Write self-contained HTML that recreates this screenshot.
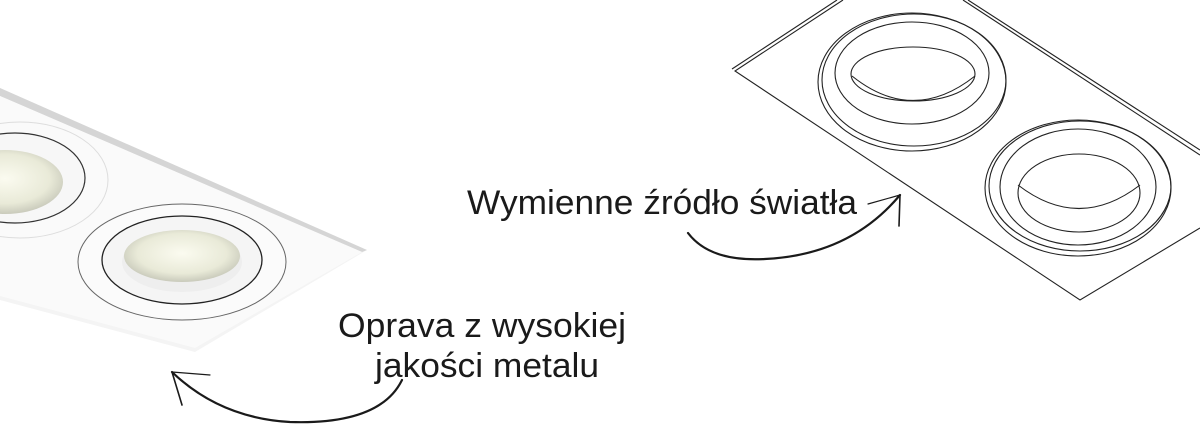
<!DOCTYPE html>
<html><head><meta charset="utf-8"><style>
html,body{margin:0;padding:0;background:#fff;width:1200px;height:428px;overflow:hidden}
</style></head><body>
<svg width="1200" height="428" viewBox="0 0 1200 428" xmlns="http://www.w3.org/2000/svg">
<defs>
<radialGradient id="bulb" cx="50%" cy="45%" r="55%">
<stop offset="0" stop-color="#fbfbf0"/><stop offset="0.7" stop-color="#e9ead8"/><stop offset="1" stop-color="#c9cabb"/>
</radialGradient>
</defs>
<!-- left white plate -->
<polygon points="0,88 367,250 195,352 0,300" fill="#f4f4f4"/>
<polygon points="0,88 367,250 362,252 0,96" fill="#d5d5d5"/>
<polygon points="0,96 362,252 195,348 0,296" fill="#fafafa"/>
<!-- lamp 1 -->
<ellipse cx="20" cy="180" rx="88" ry="58" fill="none" stroke="#ddd" stroke-width="1"/>
<ellipse cx="15" cy="178" rx="70" ry="45" fill="#f7f7f7" stroke="#333" stroke-width="1.2"/>
<ellipse cx="5" cy="182" rx="58" ry="32" fill="url(#bulb)"/>
<!-- lamp 2 -->
<ellipse cx="182" cy="262" rx="104" ry="58" fill="#fbfbfb" stroke="#666" stroke-width="1"/>
<ellipse cx="182" cy="260" rx="80" ry="44" fill="#f5f5f5" stroke="#222" stroke-width="1.3"/>
<ellipse cx="182" cy="262" rx="60" ry="30" fill="#eeeeee"/>
<ellipse cx="182" cy="256" rx="58" ry="26" fill="url(#bulb)"/>
<!-- right line drawing -->
<g fill="none" stroke="#222" stroke-width="1.1">
<polyline points="843,0 735,71 1080,300 1200,228"/>
<line x1="837" y1="0" x2="732" y2="69"/>
<line x1="963" y1="0" x2="1200" y2="155"/>
<line x1="968" y1="0" x2="1200" y2="150"/>
<ellipse cx="912" cy="82" rx="94" ry="69"/>
<ellipse cx="914" cy="80" rx="92" ry="66"/>
<ellipse cx="912" cy="73" rx="77" ry="51"/>
<ellipse cx="913" cy="74" rx="62" ry="27"/>
<path d="M852,76 Q913,125 975,76"/>
<ellipse cx="1078" cy="188" rx="93" ry="68"/>
<ellipse cx="1080" cy="186" rx="91" ry="65"/>
<ellipse cx="1078" cy="187" rx="78" ry="58"/>
<ellipse cx="1079" cy="193" rx="61" ry="39"/>
<path d="M1018,185 Q1079,232 1140,185"/>
</g>
<!-- text -->
<g font-family="Liberation Sans, DejaVu Sans, sans-serif" font-size="34" fill="#1a1a1a">
<text x="467" y="214" textLength="390" lengthAdjust="spacingAndGlyphs">Wymienne źródło światła</text>
<text x="338" y="337" textLength="288" lengthAdjust="spacingAndGlyphs">Oprava z wysokiej</text>
<text x="375" y="377" textLength="224" lengthAdjust="spacingAndGlyphs">jakości metalu</text>
</g>
<!-- arrows -->
<g fill="none" stroke="#1a1a1a" stroke-width="2.2" stroke-linecap="round">
<path d="M688,233 Q710,262 765,259 Q850,255 900,195"/>
<path d="M900,195 L868,204" stroke-width="1.2"/>
<path d="M900,195 L899,226" stroke-width="1.6"/>
<path d="M402,380 Q380,425 290,422 Q220,418 172,372"/>
<path d="M172,372 L210,375" stroke-width="1.2"/>
<path d="M172,372 L182,405" stroke-width="1.6"/>
</g>
</svg>
</body></html>
